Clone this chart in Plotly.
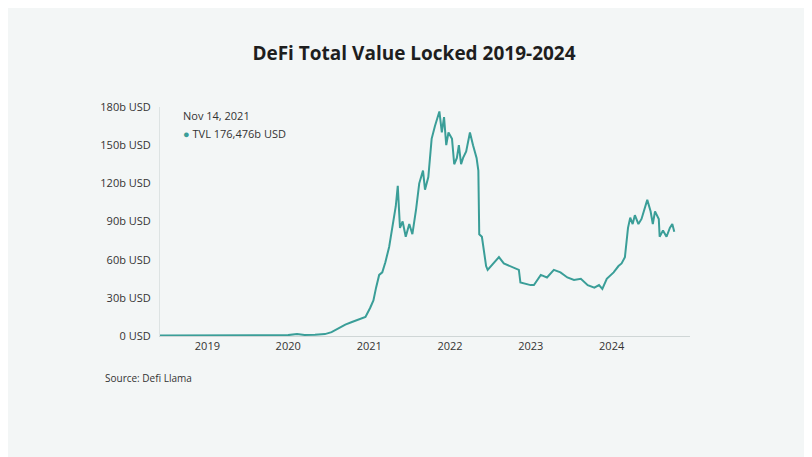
import plotly.graph_objects as go

dates = ["2018-06-01", "2018-10-01", "2019-01-01", "2019-07-01", "2020-01-01", "2020-02-10", "2020-03-15",
         "2020-05-01", "2020-06-15", "2020-07-15", "2020-08-15", "2020-09-15", "2020-10-15", "2020-11-15",
         "2020-12-15", "2021-01-05", "2021-01-20", "2021-02-01", "2021-02-15", "2021-03-01", "2021-03-15",
         "2021-04-01", "2021-04-15", "2021-05-01", "2021-05-10", "2021-05-20", "2021-06-01", "2021-06-15",
         "2021-07-01", "2021-07-15", "2021-08-01", "2021-08-15", "2021-09-01", "2021-09-10", "2021-09-25",
         "2021-10-10", "2021-10-25", "2021-11-14", "2021-11-25", "2021-12-05", "2021-12-15", "2021-12-25",
         "2022-01-10", "2022-01-20", "2022-02-01", "2022-02-10", "2022-02-20", "2022-03-01", "2022-03-15",
         "2022-04-01", "2022-04-15", "2022-05-01", "2022-05-09", "2022-05-13", "2022-05-25", "2022-06-13",
         "2022-06-20", "2022-07-01", "2022-08-10", "2022-09-01", "2022-10-01", "2022-11-08", "2022-11-15",
         "2022-12-31", "2023-01-15", "2023-02-15", "2023-03-15", "2023-04-15", "2023-05-15", "2023-06-15",
         "2023-07-15", "2023-08-15", "2023-09-15", "2023-10-15", "2023-11-05", "2023-11-20", "2023-12-10",
         "2024-01-10", "2024-02-01", "2024-02-15", "2024-03-01", "2024-03-15", "2024-03-25", "2024-04-05",
         "2024-04-15", "2024-05-01", "2024-05-15", "2024-06-01", "2024-06-10", "2024-06-25", "2024-07-05",
         "2024-07-15", "2024-08-01", "2024-08-05", "2024-08-20", "2024-09-05", "2024-09-20", "2024-10-01",
         "2024-10-10"]
tvl = [0.3, 0.4, 0.6, 0.8, 0.7, 1.5, 0.8,
       0.9, 1.5, 3, 6, 9, 11, 13,
       15, 22, 28, 38, 48, 50, 58,
       70, 85, 102, 118, 85, 90, 78,
       88, 80, 100, 120, 130, 115, 125,
       155, 165, 176.5, 160, 172, 150, 160,
       155, 135, 140, 150, 135, 140, 145,
       160, 150, 140, 130, 80, 78, 55,
       52, 54, 62, 57, 55, 52, 42,
       40, 40, 48, 46, 52, 50, 46,
       44, 45, 40, 38, 40, 37, 45,
       50, 55, 57, 62, 85, 93, 88,
       95, 88, 92, 103, 107, 98, 88,
       98, 92, 78, 83, 78, 85, 88,
       82]
y_ticks = [0, 30, 60, 90, 120, 150, 180]
y_labels = ["0 USD", "30b USD", "60b USD", "90b USD", "120b USD", "150b USD", "180b USD"]

teal = "#3a9e98"
# plot area in page pixels (page is drawn with an 8px offset)
L, T, W, H = 152, 99, 530, 229


def px(x):
    return (x - 8 - L) / W


def py(y):
    return (T + H - (y - 8)) / H


fig = go.Figure()
fig.add_scatter(x=dates, y=tvl, mode="lines", line=dict(color=teal, width=2), showlegend=False)

fig.update_layout(
    width=812, height=457,
    margin=dict(l=L, r=812 - L - W, t=T, b=457 - T - H),
    paper_bgcolor="#f3f6f6", plot_bgcolor="rgba(0,0,0,0)",
    font=dict(family="Open Sans", size=11, color="#333"),
    title=dict(text="<b>DeFi Total Value Locked 2019-2024</b>", x=0.5, y=0.915,
               xanchor="center", font=dict(size=19, color="#1e1e1e")),
)
fig.update_xaxes(range=["2018-06-01", "2024-12-20"], showgrid=False, showline=True,
                 linecolor="#cfd6d6", ticks="", dtick="M12", tickformat="%Y", tick0="2019-01-01")
fig.update_yaxes(range=[0, 180], tickvals=y_ticks, ticktext=y_labels, showgrid=False,
                 showline=True, linecolor="#dde3e3", zeroline=False, ticks="", ticklabelstandoff=6)

fig.add_annotation(x=px(181), y=py(106), xref="paper", yref="paper", text="Nov 14, 2021",
                   showarrow=False, xanchor="left", font=dict(size=11))
fig.add_annotation(x=px(181), y=py(124), xref="paper", yref="paper",
                   text="<span style='color:%s'>●</span> TVL 176,476b USD" % teal,
                   showarrow=False, xanchor="left", font=dict(size=11))
fig.add_annotation(x=px(103), y=py(387), xref="paper", yref="paper",
                   text="Source: Defi Llama", showarrow=False, xanchor="left", font=dict(size=10))

fig.write_html("out.html")
